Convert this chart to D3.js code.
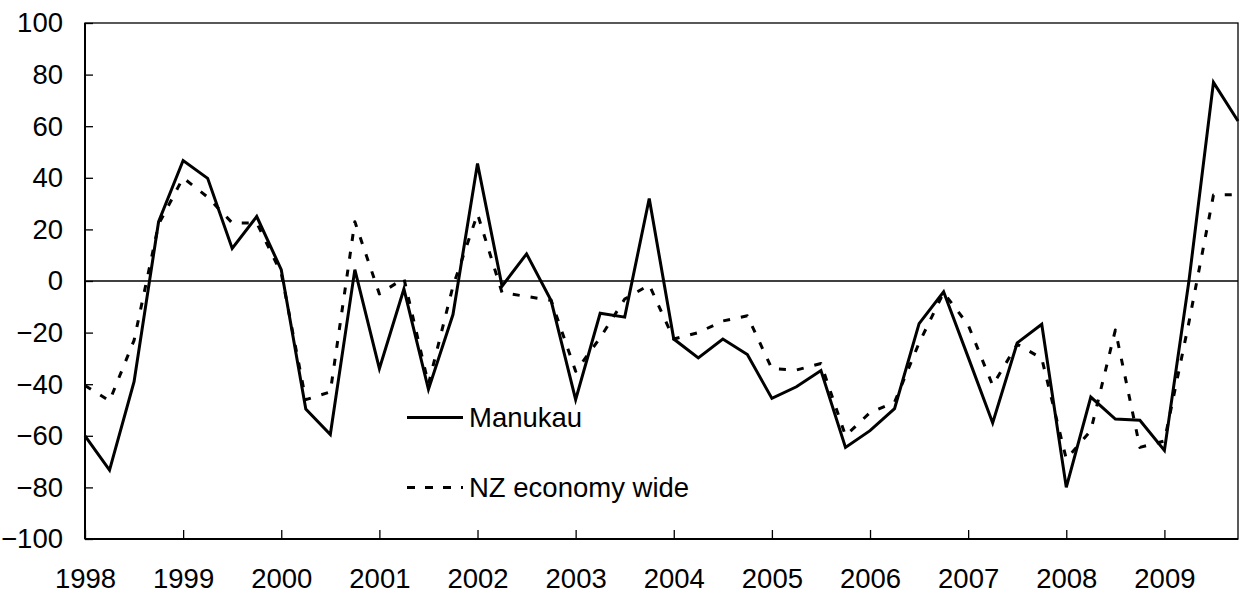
<!DOCTYPE html>
<html>
<head>
<meta charset="utf-8">
<script src="https://cdn.jsdelivr.net/npm/d3@7"></script>
<style>
  html, body { margin: 0; padding: 0; background: #fff; }
  svg { display: block; }
  text { font-family: "Liberation Sans", Arial, sans-serif; fill: #000; }
</style>
</head>
<body>
<svg id="chart" width="1240" height="596"></svg>
<script>
// Quarterly data, 1998 Q1 .. 2009 Q4
const yearLabels = ["1998","1999","2000","2001","2002","2003","2004","2005","2006","2007","2008","2009"];
const yTicks = [-100, -80, -60, -40, -20, 0, 20, 40, 60, 80, 100];
const manukau = [
  -60, -73.3, -39, 23,
  46.7, 39.8, 12.6, 25,
  4.4, -49.6, -59.5, 4.4,
  -34, -3.1, -42, -13,
  45.5, -2, 10.5, -7.6,
  -46, -12.5, -14, 32,
  -22.5, -29.8, -22.5, -28.5,
  -45.5, -41, -34.7, -64.5,
  -58, -49.5, -16.5, -4.2,
  -29.5, -55, -24, -16.8,
  -80, -45, -53.5, -54,
  -65.7, 0, 77, 62
];
const nzEconomy = [
  -40.5, -46.5, -23, 22,
  40, 32.5, 22.5, 22.5,
  3, -46, -43, 23,
  -5, 1, -40, -2,
  26, -4.5, -6, -7.5,
  -35, -22, -7, -1.5,
  -22.5, -20, -15.5, -13.5,
  -34, -34.5, -32, -60,
  -51, -47, -24, -4.5,
  -17, -40.5, -24.5, -30,
  -69, -58, -19, -64.5,
  -62, -16, 33.3, 33.5
];
const seriesNames = ["Manukau", "NZ economy wide"];

const svg = d3.select("#chart");
const L = 85, R = 1238, T = 23, B = 539;
const x = d3.scaleLinear().domain([0, manukau.length - 1]).range([L, R]);
const y = d3.scaleLinear().domain([-100, 100]).range([B, T]);
const FS = 27.5;

// frame (top/right)
svg.append("rect").attr("x", L).attr("y", T).attr("width", R - L).attr("height", B - T)
  .attr("fill", "none").attr("stroke", "#000").attr("stroke-width", 1.3);

// zero line
svg.append("line").attr("x1", L).attr("x2", R).attr("y1", y(0)).attr("y2", y(0))
  .attr("stroke", "#000").attr("stroke-width", 1.3);

// y axis
const yAxis = d3.axisLeft(y).tickValues(yTicks).tickSize(-8).tickPadding(22).tickFormat(d3.format("d"));
const gy = svg.append("g").attr("transform", `translate(${L},0)`).call(yAxis);
gy.select(".domain").remove();
gy.selectAll(".tick line").attr("stroke", "#000").attr("stroke-width", 1.3);
gy.selectAll(".tick text").attr("font-size", FS).attr("font-family", "Liberation Sans, Arial, sans-serif").attr("fill", "#000");

// x axis
const xTickIdx = yearLabels.map((_, i) => i * 4);
const xAxis = d3.axisBottom(x).tickValues(xTickIdx).tickSize(-9).tickPadding(29.5)
  .tickFormat((d) => yearLabels[d / 4]);
const gx = svg.append("g").attr("transform", `translate(0,${B})`).call(xAxis);
gx.select(".domain").remove();
gx.selectAll(".tick line").attr("stroke", "#000").attr("stroke-width", 1.3);
gx.selectAll(".tick text").attr("font-size", FS).attr("font-family", "Liberation Sans, Arial, sans-serif").attr("fill", "#000");

// axis lines (thicker left and bottom)
svg.append("line").attr("x1", L).attr("x2", L).attr("y1", T).attr("y2", B).attr("stroke", "#000").attr("stroke-width", 2);
svg.append("line").attr("x1", L).attr("x2", R).attr("y1", B).attr("y2", B).attr("stroke", "#000").attr("stroke-width", 2);

const line = d3.line().x((d, i) => x(i)).y((d) => y(d));

svg.append("path").datum(nzEconomy).attr("d", line)
  .attr("fill", "none").attr("stroke", "#000").attr("stroke-width", 3)
  .attr("stroke-dasharray", "7,11").attr("stroke-linejoin", "round");

svg.append("path").datum(manukau).attr("d", line)
  .attr("fill", "none").attr("stroke", "#000").attr("stroke-width", 3)
  .attr("stroke-linejoin", "miter");

// legend
const leg = svg.append("g");
const legItems = [
  { name: seriesNames[0], y: 417.5, dash: null },
  { name: seriesNames[1], y: 487.5, dash: "8,10" }
];
legItems.forEach((it) => {
  const l = leg.append("line").attr("x1", 407).attr("x2", 463).attr("y1", it.y).attr("y2", it.y)
    .attr("stroke", "#000").attr("stroke-width", 3);
  if (it.dash) l.attr("stroke-dasharray", it.dash);
  leg.append("text").attr("x", 469).attr("y", it.y).attr("dy", "0.35em")
    .attr("font-size", FS).text(it.name);
});
</script>
</body>
</html>
